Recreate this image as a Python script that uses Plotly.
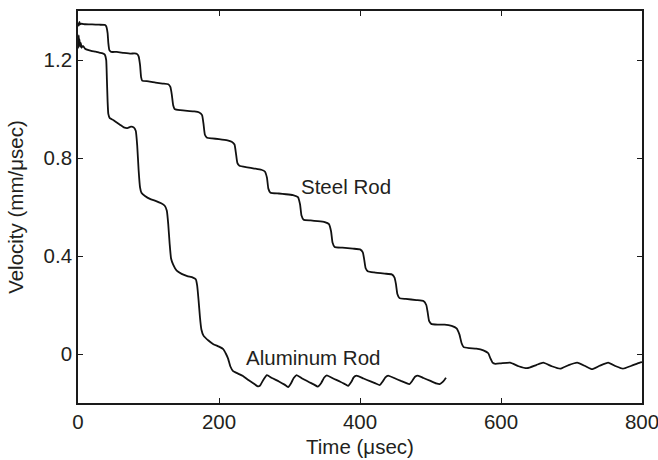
import plotly.graph_objects as go

# Steel rod: time (usec) and velocity (mm/usec)
steel_t = [0, 1, 2, 3, 5, 10, 20, 30, 38, 40, 42, 43, 44.5, 47, 55, 65, 75, 80, 84, 86, 88, 89.5, 91,
           100, 110, 120, 128, 131, 133, 135, 137, 145, 155, 165, 172, 176, 178, 180, 183, 190, 200,
           212, 218, 222, 224, 226, 229, 240, 250, 260, 265, 268, 270, 273, 285, 295, 305, 312, 315,
           317, 320, 330, 340, 350, 356, 359, 361, 364, 375, 390, 400, 404, 406, 408, 411, 420, 435,
           445, 449, 451, 453, 456, 465, 480, 490, 494, 496, 498, 501, 510, 520, 530, 537, 541, 544,
           547, 555, 565, 575, 582, 585, 588, 592, 600, 613, 625, 637, 650, 660, 672, 684, 696, 708,
           720, 729, 740, 752, 763, 773, 785, 797, 800]
steel_v = [1.352, 1.34, 1.356, 1.345, 1.348, 1.346, 1.345, 1.344, 1.343, 1.338, 1.31, 1.27, 1.24,
           1.233, 1.233, 1.229, 1.226, 1.227, 1.224, 1.215, 1.18, 1.13, 1.116, 1.113, 1.108, 1.104,
           1.101, 1.09, 1.06, 1.015, 1.0, 0.995, 0.992, 0.99, 0.986, 0.975, 0.94, 0.895, 0.883, 0.88,
           0.877, 0.872, 0.866, 0.855, 0.82, 0.78, 0.768, 0.762, 0.757, 0.752, 0.745, 0.72, 0.675,
           0.658, 0.655, 0.652, 0.648, 0.64, 0.61, 0.565, 0.548, 0.545, 0.542, 0.538, 0.53, 0.5,
           0.455, 0.437, 0.434, 0.43, 0.427, 0.415, 0.385, 0.35, 0.338, 0.333, 0.328, 0.325, 0.312,
           0.285, 0.245, 0.228, 0.225, 0.22, 0.216, 0.2, 0.17, 0.135, 0.123, 0.12, 0.12, 0.115, 0.105,
           0.08, 0.045, 0.028, 0.024, 0.022, 0.015, 0.003, -0.018, -0.035, -0.04, -0.038, -0.035,
           -0.05, -0.058, -0.045, -0.035, -0.05, -0.06, -0.045, -0.035, -0.05, -0.062, -0.048, -0.035,
           -0.05, -0.06, -0.048, -0.035, -0.033]

# Aluminum rod
alum_t = [0, 0.5, 1, 1.5, 2, 3, 4, 5, 7, 10, 15, 20, 25, 30, 35, 38, 40, 41, 42, 43, 45, 50, 55, 60,
          65, 70, 75, 79, 82, 84, 86, 88, 90, 95, 102, 110, 118, 123, 126, 128, 130, 132, 135, 140,
          147, 155, 163, 167, 169, 171, 173, 175, 178, 185, 192, 200, 206, 210, 213, 216, 220, 227,
          234, 241, 248, 255, 258, 263, 268, 275, 285, 293, 298, 302, 306, 310, 318, 328, 335, 340,
          345, 349, 353, 362, 372, 378, 383, 388, 391, 395, 405, 415, 422, 428, 432, 436, 440, 450,
          458, 465, 470, 474, 478, 482, 490, 500, 508, 513, 517, 520, 522]
alum_v = [1.29, 1.25, 1.3, 1.26, 1.285, 1.255, 1.27, 1.25, 1.258, 1.246, 1.24, 1.236, 1.234, 1.23,
          1.227, 1.222, 1.2, 1.12, 1.03, 0.98, 0.963, 0.955, 0.945, 0.935, 0.925, 0.922, 0.928,
          0.925, 0.91, 0.85, 0.75, 0.68, 0.658, 0.645, 0.633, 0.625, 0.615, 0.605, 0.585, 0.53,
          0.45, 0.39, 0.365, 0.34, 0.327, 0.318, 0.312, 0.305, 0.28, 0.22, 0.15, 0.1, 0.075, 0.055,
          0.04, 0.03, 0.02, 0.0, -0.02, -0.05, -0.07, -0.08, -0.09, -0.105, -0.118, -0.132, -0.13,
          -0.105, -0.086, -0.098, -0.112, -0.125, -0.135, -0.12, -0.098, -0.086, -0.1, -0.115,
          -0.125, -0.133, -0.118, -0.097, -0.087, -0.1, -0.113, -0.122, -0.13, -0.112, -0.095,
          -0.088, -0.1, -0.112, -0.12, -0.127, -0.113, -0.095, -0.088, -0.1, -0.11, -0.118, -0.123,
          -0.11, -0.093, -0.088, -0.098, -0.11, -0.12, -0.123, -0.115, -0.105, -0.097]

x_ticks = [0, 200, 400, 600, 800]
y_ticks = [0, 0.4, 0.8, 1.2]
y_tick_labels = ["0", "0.4", "0.8", "1.2"]

FONT = "Liberation Sans, Arial, sans-serif"
TXT = "#231f20"
FS = 20.5

fig = go.Figure()
fig.add_trace(go.Scatter(x=steel_t, y=steel_v, mode="lines", name="Steel Rod",
                         line=dict(color="#111111", width=1.8, shape="spline", smoothing=0.4)))
fig.add_trace(go.Scatter(x=alum_t, y=alum_v, mode="lines", name="Aluminum Rod",
                         line=dict(color="#111111", width=1.8, shape="spline", smoothing=0.4)))

fig.add_annotation(x=380, y=0.684, text="Steel Rod", showarrow=False,
                   font=dict(family=FONT, size=FS, color=TXT))
fig.add_annotation(x=333, y=-0.014, text="Aluminum Rod", showarrow=False,
                   font=dict(family=FONT, size=FS, color=TXT))
fig.add_annotation(x=0.5, y=-0.112, xref="paper", yref="paper", text="Time (\u03bcsec)",
                   showarrow=False, yanchor="middle",
                   font=dict(family=FONT, size=FS, color=TXT))
fig.add_annotation(x=-0.112, y=0.5, xref="paper", yref="paper", text="Velocity (mm/\u03bcsec)",
                   showarrow=False, textangle=-90, xanchor="center",
                   font=dict(family=FONT, size=FS, color=TXT))

axis_common = dict(showline=True, linecolor="#1a1a1a", linewidth=1.6, mirror="allticks",
                   ticks="inside", ticklen=5, tickwidth=1.2, tickcolor="#1a1a1a",
                   showgrid=False, zeroline=False, ticklabeloverflow="allow", automargin=False,
                   tickfont=dict(family=FONT, size=FS, color=TXT))

fig.update_layout(
    width=658, height=460,
    margin=dict(l=78, r=16, t=11, b=57),
    paper_bgcolor="white", plot_bgcolor="white",
    showlegend=False,
    xaxis=dict(range=[0, 800], tickvals=x_ticks, **axis_common),
    yaxis=dict(range=[-0.2, 1.4], tickvals=y_ticks, ticktext=y_tick_labels, **axis_common),
)

fig.write_html("out.html")
